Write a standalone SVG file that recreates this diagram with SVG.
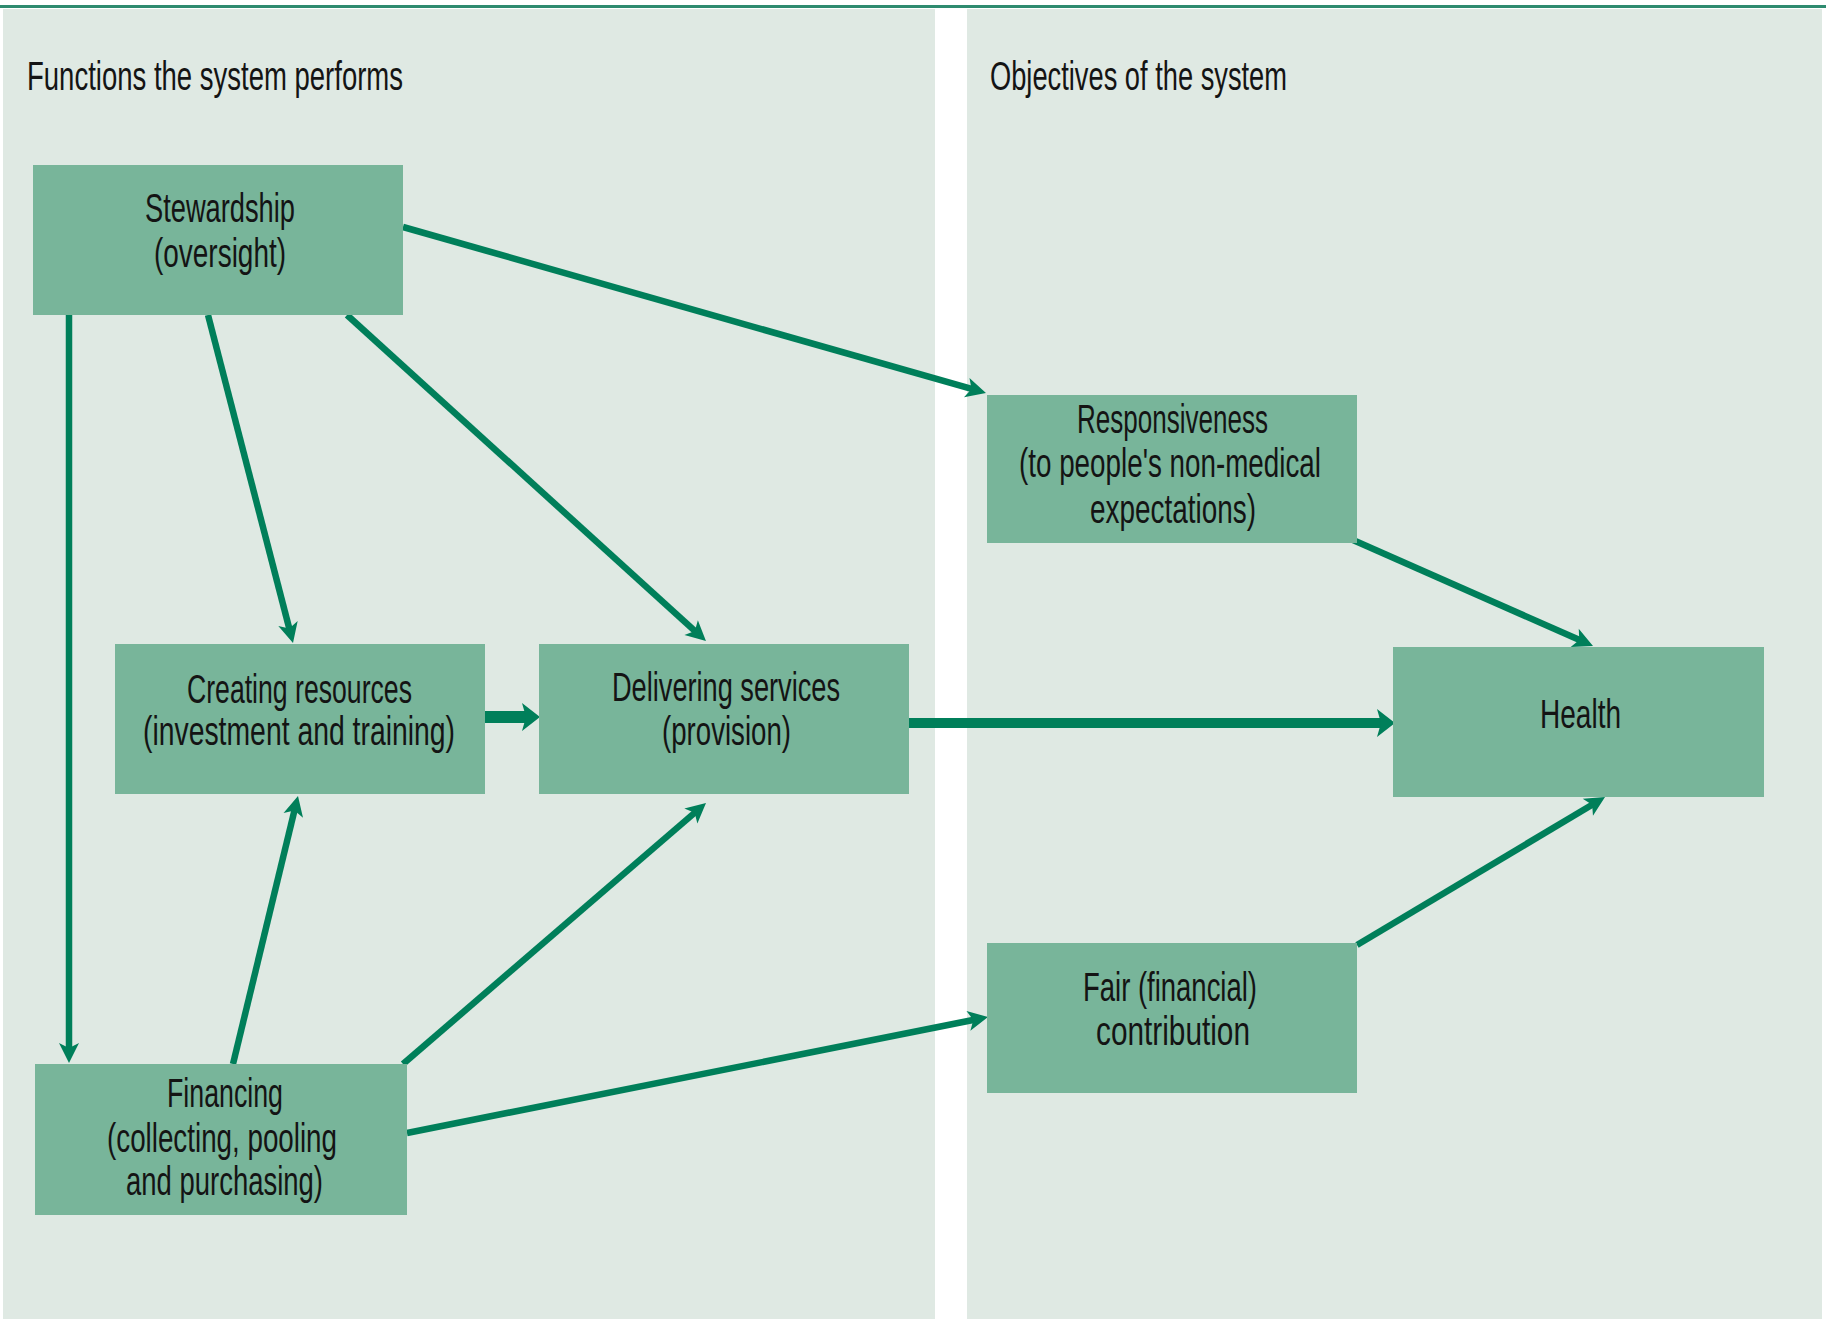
<svg xmlns="http://www.w3.org/2000/svg" width="1826" height="1319" viewBox="0 0 1826 1319">
<style>
.panel{fill:#dfe9e3}
.box{fill:#78b59a}
.t{font-family:"Liberation Sans Narrow","Liberation Sans",Arial,sans-serif;font-size:41px;fill:#141414;text-anchor:middle}
.title{font-family:"Liberation Sans Narrow","Liberation Sans",Arial,sans-serif;font-size:41px;fill:#141414}
.c{stroke:#007f5a;stroke-width:6.5;fill:none;marker-end:url(#ah)}
.cw{stroke:#007f5a;fill:none;marker-end:url(#ahL)}
</style>
<defs>
<marker id="ah" viewBox="-21 -11 22 22" refX="-14" refY="0" markerWidth="22" markerHeight="22" markerUnits="userSpaceOnUse" orient="auto">
<path d="M0,0 L-20,-10 L-15,0 L-20,10 Z" fill="#007f5a"/>
</marker>
<marker id="ahL" viewBox="-19 -16 20 32" refX="-12" refY="0" markerWidth="20" markerHeight="32" markerUnits="userSpaceOnUse" orient="auto">
<path d="M0,0 L-18,-14 L-14,0 L-18,14 Z" fill="#007f5a"/>
</marker>
</defs>
<rect x="0" y="0" width="1826" height="1319" fill="#ffffff"/>
<rect class="panel" x="3" y="9" width="932" height="1310"/>
<rect class="panel" x="967" y="9" width="855" height="1310"/>
<line x1="0" y1="6.5" x2="1826" y2="6.5" stroke="#2e8b6f" stroke-width="3"/>
<text class="title" x="27" y="90" textLength="376" lengthAdjust="spacingAndGlyphs">Functions the system performs</text>
<text class="title" x="990" y="90" textLength="297" lengthAdjust="spacingAndGlyphs">Objectives of the system</text>

<g id="connectors">
<line class="c" x1="403" y1="227" x2="972.5" y2="389.2"/>
<line class="c" x1="208" y1="315" x2="289.5" y2="629.4"/>
<line class="c" x1="347" y1="315" x2="695.6" y2="631.6"/>
<line class="c" x1="69" y1="315" x2="69" y2="1049"/>
<line class="cw" x1="485" y1="717" x2="528" y2="717" stroke-width="12"/>
<line class="cw" x1="909" y1="723" x2="1383" y2="723" stroke-width="10"/>
<line class="c" x1="233" y1="1064" x2="294.7" y2="809.6"/>
<line class="c" x1="403" y1="1064" x2="695.4" y2="812.1"/>
<line class="c" x1="407" y1="1133" x2="974.3" y2="1019.7"/>
<line class="c" x1="1353" y1="540" x2="1580.2" y2="640.3"/>
<line class="c" x1="1357" y1="945" x2="1593" y2="804.2"/>
</g>

<g id="stewardship">
<rect class="box" x="33" y="165" width="370" height="150"/>
<text class="t" x="220" y="222" textLength="150" lengthAdjust="spacingAndGlyphs">Stewardship</text>
<text class="t" x="220" y="267" textLength="132" lengthAdjust="spacingAndGlyphs">(oversight)</text>
</g>
<g id="creating-resources">
<rect class="box" x="115" y="644" width="370" height="150"/>
<text class="t" x="299.5" y="703" textLength="225" lengthAdjust="spacingAndGlyphs">Creating resources</text>
<text class="t" x="299" y="745" textLength="312" lengthAdjust="spacingAndGlyphs">(investment and training)</text>
</g>
<g id="delivering-services">
<rect class="box" x="539" y="644" width="370" height="150"/>
<text class="t" x="726" y="701" textLength="228" lengthAdjust="spacingAndGlyphs">Delivering services</text>
<text class="t" x="726.5" y="745" textLength="129" lengthAdjust="spacingAndGlyphs">(provision)</text>
</g>
<g id="financing">
<rect class="box" x="35" y="1064" width="372" height="151"/>
<text class="t" x="225" y="1107" textLength="116" lengthAdjust="spacingAndGlyphs">Financing</text>
<text class="t" x="222" y="1152" textLength="230" lengthAdjust="spacingAndGlyphs">(collecting, pooling</text>
<text class="t" x="224.5" y="1195" textLength="197" lengthAdjust="spacingAndGlyphs">and purchasing)</text>
</g>
<g id="responsiveness">
<rect class="box" x="987" y="395" width="370" height="148"/>
<text class="t" x="1172.5" y="433" textLength="191" lengthAdjust="spacingAndGlyphs">Responsiveness</text>
<text class="t" x="1170" y="477" textLength="302" lengthAdjust="spacingAndGlyphs">(to people's non-medical</text>
<text class="t" x="1173" y="523" textLength="166" lengthAdjust="spacingAndGlyphs">expectations)</text>
</g>
<g id="health">
<rect class="box" x="1393" y="647" width="371" height="150"/>
<text class="t" x="1580.5" y="728" textLength="81" lengthAdjust="spacingAndGlyphs">Health</text>
</g>
<g id="fair-contribution">
<rect class="box" x="987" y="943" width="370" height="150"/>
<text class="t" x="1170" y="1001" textLength="174" lengthAdjust="spacingAndGlyphs">Fair (financial)</text>
<text class="t" x="1173" y="1045" textLength="154" lengthAdjust="spacingAndGlyphs">contribution</text>
</g>
</svg>
